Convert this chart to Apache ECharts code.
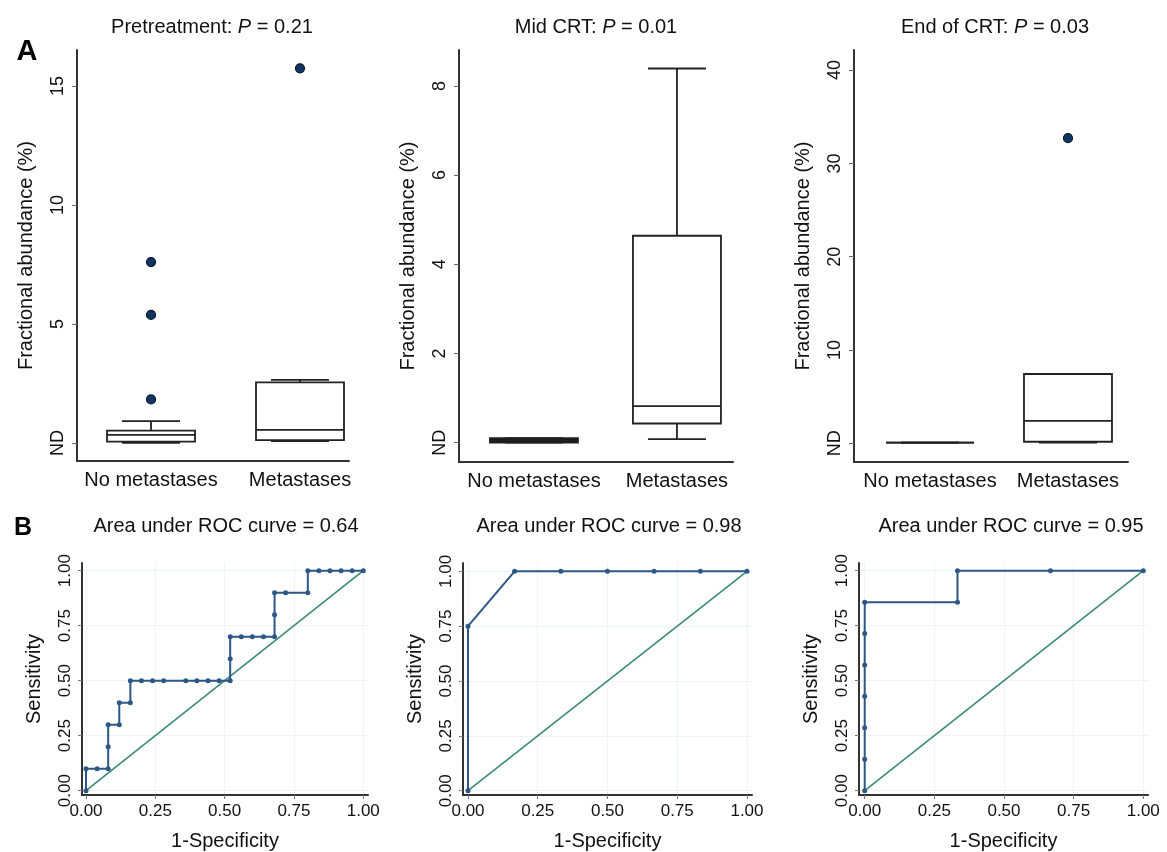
<!DOCTYPE html>
<html>
<head>
<meta charset="utf-8">
<script src="https://cdn.jsdelivr.net/npm/echarts@6/dist/echarts.min.js"></script>
<style>
  html, body { margin: 0; padding: 0; background: #fff; }
  #chart { width: 1167px; height: 852px; }
</style>
</head>
<body>
<div id="chart"></div>
<script>
// box plot groups
const boxCats = ['No metastases', 'Metastases'];
// [min, q1, median, q3, max]
const pretreatBox = [[0.01, 0.06, 0.34, 0.52, 0.92], [0.08, 0.12, 0.55, 2.55, 2.65]];
const pretreatOutNo = [1.83, 5.38, 7.6];
const pretreatOutMet = [15.74];
const midBox = [[0.0, 0.0, 0.05, 0.1, 0.1], [0.08, 0.43, 0.82, 4.64, 8.39]];
const endBox = [[0.07, 0.07, 0.07, 0.07, 0.07], [0.07, 0.17, 2.4, 7.43, 7.43]];
const endOutMet = [32.7];

// tick labels
const ticksPre = [0, 5, 10, 15];
const ticksMid = [0, 2, 4, 6, 8];
const ticksEnd = [0, 10, 20, 30, 40];
const ticksRoc = [0, 0.25, 0.5, 0.75, 1];

// ROC curves
const roc1Fpr = [0, 0, 0.04, 0.08, 0.08, 0.08, 0.12, 0.12, 0.16, 0.16, 0.2, 0.24, 0.28, 0.36, 0.4, 0.44, 0.48,
  0.52, 0.52, 0.52, 0.56, 0.6, 0.64, 0.68, 0.68, 0.68, 0.72, 0.8, 0.8, 0.84, 0.88, 0.92, 0.96, 1];
const roc1Tpr = [0, 0.1, 0.1, 0.1, 0.2, 0.3, 0.3, 0.4, 0.4, 0.5, 0.5, 0.5, 0.5, 0.5, 0.5, 0.5, 0.5,
  0.5, 0.6, 0.7, 0.7, 0.7, 0.7, 0.7, 0.8, 0.9, 0.9, 0.9, 1, 1, 1, 1, 1, 1];
const roc2Fpr = [0, 0, 0.167, 0.333, 0.5, 0.667, 0.833, 1];
const roc2Tpr = [0, 0.75, 1, 1, 1, 1, 1, 1];
const roc3Fpr = [0, 0, 0, 0, 0, 0, 0, 0.333, 0.333, 0.667, 1];
const roc3Tpr = [0, 0.143, 0.286, 0.429, 0.571, 0.714, 0.857, 0.857, 1, 1, 1];

const FONT = '"Liberation Sans", Arial, Helvetica, sans-serif';
const AXIS = '#333';
const CURVE = '#2d5886';
const DIAG = '#3b8a73';

let chart = echarts.init(document.getElementById('chart'));

function renderBox(params, api) {
  let x = api.value(0);
  let pMin = api.coord([x, api.value(1)]);
  let pQ1 = api.coord([x, api.value(2)]);
  let pMed = api.coord([x, api.value(3)]);
  let pQ3 = api.coord([x, api.value(4)]);
  let pMax = api.coord([x, api.value(5)]);
  let cx = pQ1[0];
  let half = 44, cap = 29;
  let st = { stroke: '#222', lineWidth: 1.8, fill: null };
  // a collapsed box prints as a solid bar
  let boxH = pQ1[1] - pQ3[1];
  let boxFill = boxH > 0.5 && boxH < 6 ? '#111' : 'rgba(255,255,255,0)';
  return {
    type: 'group',
    children: [
      { type: 'line', shape: { x1: cx, y1: pQ3[1], x2: cx, y2: pMax[1] }, style: st },
      { type: 'line', shape: { x1: cx, y1: pQ1[1], x2: cx, y2: pMin[1] }, style: st },
      { type: 'line', shape: { x1: cx - cap, y1: pMax[1], x2: cx + cap, y2: pMax[1] }, style: st },
      { type: 'line', shape: { x1: cx - cap, y1: pMin[1], x2: cx + cap, y2: pMin[1] }, style: st },
      { type: 'rect', shape: { x: cx - half, y: pQ3[1], width: half * 2, height: boxH },
        style: { stroke: '#222', lineWidth: 1.8, fill: boxFill } },
      { type: 'line', shape: { x1: cx - half, y1: pMed[1], x2: cx + half, y2: pMed[1] }, style: st }
    ]
  };
}

function boxData(box) {
  return box.map((b, i) => [i + 1].concat(b));
}

function outData(idx, vals) {
  return vals.map(v => [idx, v]);
}

function rocData(fpr, tpr) {
  return fpr.map((f, i) => [f, tpr[i]]);
}

function title(text, x, y) {
  return {
    text: text, left: x, top: y, textAlign: 'center', padding: 0,
    textStyle: {
      fontFamily: FONT, fontSize: 20, fontWeight: 'normal', color: '#111',
      rich: {
        n: { fontFamily: FONT, fontSize: 20, color: '#111' },
        i: { fontFamily: FONT, fontSize: 20, color: '#111', fontStyle: 'italic' }
      }
    }
  };
}

function boxX(i, min, max) {
  return {
    type: 'value', gridIndex: i, min: min, max: max,
    axisLine: { onZero: false, lineStyle: { color: AXIS, width: 2 } },
    axisTick: { show: false },
    splitLine: { show: false },
    axisLabel: {
      customValues: [1, 2], margin: 9,
      formatter: v => boxCats[v - 1] || '',
      fontFamily: FONT, fontSize: 20, color: '#111'
    }
  };
}

function boxY(i, min, max, ticks) {
  return {
    type: 'value', gridIndex: i, min: min, max: max,
    name: 'Fractional abundance (%)', nameLocation: 'middle', nameGap: 41,
    nameTextStyle: { fontFamily: FONT, fontSize: 20, color: '#111' },
    axisLine: { show: true, onZero: false, lineStyle: { color: AXIS, width: 2 } },
    axisTick: { show: true, customValues: ticks, length: 5, lineStyle: { color: '#666' } },
    splitLine: { show: false },
    axisLabel: {
      customValues: ticks, rotate: 90, margin: 10,
      formatter: v => (v === 0 ? 'ND' : String(v)),
      fontFamily: FONT, fontSize: 18, color: '#111'
    }
  };
}

function rocX(i, min, max) {
  return {
    type: 'value', gridIndex: i, min: min, max: max,
    name: '1-Specificity', nameLocation: 'middle', nameGap: 36,
    nameTextStyle: { fontFamily: FONT, fontSize: 20, color: '#111' },
    axisLine: { onZero: false, lineStyle: { color: AXIS, width: 2 } },
    axisTick: { show: true, customValues: ticksRoc, length: 4, lineStyle: { color: '#777' } },
    splitLine: { show: true, lineStyle: { color: '#eef3f6', width: 1 } },
    axisLabel: {
      customValues: ticksRoc, margin: 8, formatter: v => v.toFixed(2),
      fontFamily: FONT, fontSize: 17, color: '#111'
    }
  };
}

function rocY(i, min, max) {
  return {
    type: 'value', gridIndex: i, min: min, max: max,
    name: 'Sensitivity', nameLocation: 'middle', nameGap: 38,
    nameTextStyle: { fontFamily: FONT, fontSize: 20, color: '#111' },
    axisLine: { show: true, onZero: false, lineStyle: { color: AXIS, width: 2 } },
    axisTick: { show: true, customValues: ticksRoc, length: 4, lineStyle: { color: '#777' } },
    splitLine: { show: true, lineStyle: { color: '#eef3f6', width: 1 } },
    axisLabel: {
      customValues: ticksRoc, rotate: 90, margin: 8, formatter: v => v.toFixed(2),
      fontFamily: FONT, fontSize: 17, color: '#111'
    }
  };
}

function outlierSeries(i, data) {
  return {
    type: 'scatter', xAxisIndex: i, yAxisIndex: i, data: data,
    symbol: 'circle', symbolSize: 9, silent: true,
    itemStyle: { color: '#123461', borderColor: '#08162a', borderWidth: 1.2, opacity: 1 }
  };
}

function rocSeries(i, data) {
  return {
    type: 'line', xAxisIndex: i, yAxisIndex: i, data: data,
    symbol: 'circle', symbolSize: 5, showSymbol: true, silent: true,
    lineStyle: { color: CURVE, width: 2 },
    itemStyle: { color: CURVE }
  };
}

function diagSeries(i) {
  return {
    type: 'line', xAxisIndex: i, yAxisIndex: i, data: [[0, 0], [1, 1]],
    symbol: 'none', silent: true, z: 1,
    lineStyle: { color: DIAG, width: 1.6 }
  };
}

let option = {
  backgroundColor: '#fff',
  animation: false,
  title: [
    title('{n|Pretreatment: }{i|P}{n| = 0.21}', 212, 17),
    title('{n|Mid CRT: }{i|P}{n| = 0.01}', 596, 17),
    title('{n|End of CRT: }{i|P}{n| = 0.03}', 995, 17),
    title('Area under ROC curve = 0.64', 226, 516),
    title('Area under ROC curve = 0.98', 609, 516),
    title('Area under ROC curve = 0.95', 1011, 516)
  ],
  graphic: [
    { type: 'text', x: 27, y: 52, style: { text: 'A', fontFamily: FONT, fontSize: 29, fontWeight: 'bold', fill: '#000', textAlign: 'center', textVerticalAlign: 'middle' } },
    { type: 'text', x: 23, y: 528, style: { text: 'B', fontFamily: FONT, fontSize: 25, fontWeight: 'bold', fill: '#000', textAlign: 'center', textVerticalAlign: 'middle' } }
  ],
  grid: [
    { left: 77, top: 50, width: 272, height: 411 },
    { left: 459, top: 50, width: 274, height: 412 },
    { left: 854, top: 50, width: 274, height: 412 },
    { left: 82, top: 563, width: 286, height: 233 },
    { left: 463, top: 563, width: 289, height: 233 },
    { left: 859, top: 563, width: 289, height: 233 }
  ],
  xAxis: [
    boxX(0, 0.503, 2.329),
    boxX(1, 0.476, 2.392),
    boxX(2, 0.449, 2.435),
    rocX(3, -0.0144, 1.017),
    rocX(4, -0.0179, 1.018),
    rocX(5, -0.0205, 1.017)
  ],
  yAxis: [
    boxY(0, -0.756, 16.51, ticksPre),
    boxY(1, -0.433, 8.805, ticksMid),
    boxY(2, -2.0, 42.15, ticksEnd),
    rocY(3, -0.0195, 1.035),
    rocY(4, -0.0195, 1.038),
    rocY(5, -0.0195, 1.035)
  ],
  series: [
    { type: 'custom', xAxisIndex: 0, yAxisIndex: 0, renderItem: renderBox, data: boxData(pretreatBox), silent: true },
    { type: 'custom', xAxisIndex: 1, yAxisIndex: 1, renderItem: renderBox, data: boxData(midBox), silent: true },
    { type: 'custom', xAxisIndex: 2, yAxisIndex: 2, renderItem: renderBox, data: boxData(endBox), silent: true },
    outlierSeries(0, outData(1, pretreatOutNo).concat(outData(2, pretreatOutMet))),
    outlierSeries(2, outData(2, endOutMet)),
    diagSeries(3), rocSeries(3, rocData(roc1Fpr, roc1Tpr)),
    diagSeries(4), rocSeries(4, rocData(roc2Fpr, roc2Tpr)),
    diagSeries(5), rocSeries(5, rocData(roc3Fpr, roc3Tpr))
  ]
};

chart.setOption(option);
</script>
</body>
</html>
